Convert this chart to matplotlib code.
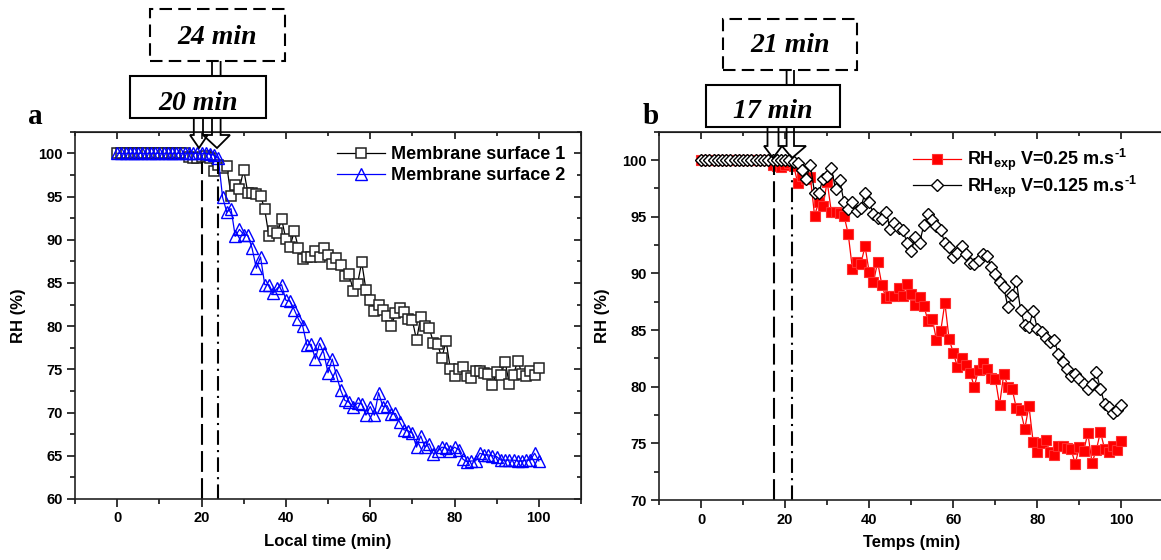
import matplotlib
matplotlib.use("Agg")
import matplotlib.pyplot as plt
from matplotlib.ticker import MultipleLocator
from matplotlib.patches import Rectangle, Polygon

plt.rcParams['font.family'] = ['Liberation Sans', 'DejaVu Sans']
plt.rcParams['font.weight'] = 'bold'
plt.rcParams['mathtext.fontset'] = 'custom'
plt.rcParams['mathtext.rm'] = 'Liberation Sans:bold'
plt.rcParams['mathtext.bf'] = 'Liberation Sans:bold'

W, H = 1161, 560

# ---- data ----
time_min = list(range(0, 101))

surface1 = [100.0] * 17 + [
    99.6, 99.5, 99.4, 99.6, 99.7, 99.5, 98.0, 98.6, 98.3, 98.5,   # 17-26
    95.1, 96.3, 95.9, 98.1, 95.4, 95.4, 95.3, 95.1, 93.5, 90.4,   # 27-36
    91.0, 90.8, 92.4, 90.1, 89.2, 91.0, 89.0, 87.8, 88.0, 88.0,   # 37-46
    88.7, 88.0, 89.1, 88.2, 87.2, 87.9, 87.1, 85.8, 86.0, 84.1,   # 47-56
    84.9, 87.4, 84.2, 83.0, 81.7, 82.5, 81.9, 81.2, 80.0, 81.5,   # 57-66
    82.1, 81.6, 80.8, 80.7, 78.4, 81.1, 80.0, 79.8, 78.1, 77.9,   # 67-76
    76.3, 78.3, 75.1, 74.2, 75.0, 75.3, 74.2, 74.0, 74.8, 74.8,   # 77-86
    74.6, 74.5, 73.2, 74.7, 74.3, 75.9, 73.3, 74.4, 76.0, 74.5,   # 87-96
    74.2, 74.8, 74.4, 75.2]                                       # 97-100

surface2 = [100.0] * 22 + [
    99.9, 99.8, 99.4, 94.9, 93.2, 93.6, 90.4, 91.2,               # 22-29
    90.6, 90.5, 89.0, 86.7, 88.0, 84.8, 84.8, 83.8, 84.4, 84.8,   # 30-39
    83.0, 82.9, 81.9, 80.8, 80.0, 77.8, 77.9, 76.2, 78.0, 76.9,   # 40-49
    74.6, 76.2, 74.3, 72.6, 71.4, 71.2, 70.6, 71.1, 71.0, 69.7,   # 50-59
    70.7, 69.7, 72.3, 70.7, 70.8, 69.8, 69.9, 68.9, 68.0, 67.9,   # 60-69
    67.6, 66.0, 67.3, 66.0, 66.4, 65.2, 65.5, 66.0, 65.9, 65.5,   # 70-79
    66.0, 65.7, 64.6, 64.3, 64.4, 64.4, 65.3, 65.1, 65.1, 65.0,   # 80-89
    64.9, 64.5, 64.5, 64.5, 64.5, 64.4, 64.4, 64.5, 64.5, 65.3,   # 90-99
    64.4]

rh_v025 = list(surface1)

rh_v0125 = [100.0] * 22 + [
    99.8, 99.7, 99.1, 98.3, 99.6, 97.1, 97.1, 98.3,               # 22-29
    98.6, 99.3, 97.4, 98.2, 96.3, 95.7, 96.3, 95.5, 95.8, 97.1,   # 30-39
    96.3, 95.2, 94.9, 94.8, 95.4, 93.9, 94.4, 94.0, 93.8, 92.7,   # 40-49
    92.0, 93.2, 92.7, 94.3, 95.2, 94.7, 94.2, 93.8, 92.7, 92.3,   # 50-59
    91.4, 91.8, 92.4, 91.7, 90.9, 90.8, 91.2, 91.7, 91.5, 90.6,   # 60-69
    89.9, 89.2, 88.8, 87.0, 88.1, 89.3, 86.8, 85.4, 85.3, 86.7,   # 70-79
    85.1, 84.8, 84.3, 83.9, 84.1, 82.9, 82.2, 81.6, 80.9, 81.1,   # 80-89
    80.7, 80.2, 79.8, 80.2, 81.3, 79.8, 78.5, 78.2, 77.7, 77.9,   # 90-99
    78.4]

onset_a = [20, 24]
onset_b = [17.4, 21.7]
labels_a = ['20 min', '24 min']
labels_b = ['17 min', '21 min']


def fx(px):
    return px / W


def fy(py):
    return 1 - py / H


fig = plt.figure(figsize=(W / 100, H / 100), dpi=100)
ax1 = fig.add_axes([fx(75), fy(499), fx(581) - fx(75), fy(131.7) - fy(499)])
ax2 = fig.add_axes([fx(659), fy(500), fx(1163.5) - fx(659), fy(131.7) - fy(500)])


def style_axes(ax, ymin, xlabel, right_ticks=True):
    ax.set_xlim(-10, 110)
    ax.set_ylim(ymin, 102.5)
    ax.xaxis.set_major_locator(MultipleLocator(20))
    ax.xaxis.set_minor_locator(MultipleLocator(10))
    ax.yaxis.set_major_locator(MultipleLocator(5))
    ax.yaxis.set_minor_locator(MultipleLocator(2.5))
    ax.tick_params(which='major', direction='out', length=6, width=1.1, labelsize=10.5, pad=3)
    ax.tick_params(which='minor', direction='out', length=3.5, width=1.1)
    for s in ax.spines.values():
        s.set_linewidth(1.2)
        s.set_color('#222222')
    ax.set_xlabel(xlabel, fontsize=12, fontweight='bold', labelpad=6)
    ax.set_ylabel('RH (%)', fontsize=12, fontweight='bold', labelpad=9)
    top = ax.secondary_xaxis('top')
    top.xaxis.set_major_locator(MultipleLocator(20))
    top.xaxis.set_minor_locator(MultipleLocator(10))
    top.tick_params(which='major', direction='in', length=5, width=1.1, labeltop=False)
    top.tick_params(which='minor', direction='in', length=3, width=1.1)
    if right_ticks:
        right = ax.secondary_yaxis('right')
        right.yaxis.set_major_locator(MultipleLocator(5))
        right.yaxis.set_minor_locator(MultipleLocator(2.5))
        right.tick_params(which='major', direction='in', length=5, width=1.1, labelright=False)
        right.tick_params(which='minor', direction='in', length=3, width=1.1)


# ---- panel a ----
ax1.plot(time_min, surface1, color='black', lw=0.9, marker='s', ms=6.5,
         mfc='white', mec='#222222', mew=1.1, label='Membrane surface 1')
ax1.plot(time_min, surface2, color='#0000ff', lw=0.9, marker='^', ms=8,
         mfc='none', mec='#0000ff', mew=1.0, label='Membrane surface 2')
ax1.vlines(onset_a[0], 60, 99.0, color='black', lw=1.5, linestyles=[(0, (10, 3))])
ax1.vlines(onset_a[1], 60, 99.0, color='black', lw=1.5, linestyles=[(0, (7, 2.5, 1, 2.5))])
style_axes(ax1, 60, 'Local time (min)')
ax1.legend(loc='upper left', bbox_to_anchor=(fx(337), fy(146)), bbox_transform=fig.transFigure,
           frameon=False, fontsize=13, handlelength=2.65, handletextpad=0.35,
           borderpad=0, borderaxespad=0, labelspacing=0.22)

# ---- panel b ----
ax2.plot(time_min, rh_v025, color='#ff0000', lw=0.9, marker='s', ms=6.5,
         mfc='#ff0000', mec='#ff3030', mew=0.8,
         label=r'RH$_{\mathrm{exp}}$ V=0.25 m.s$^{\text{-1}}$')
ax2.plot(time_min, rh_v0125, color='black', lw=0.9, marker='D', ms=6.3,
         mfc='white', mec='black', mew=1.0,
         label=r'RH$_{\mathrm{exp}}$ V=0.125 m.s$^{\text{-1}}$')
ax2.vlines(onset_b[0], 70, 99.5, color='black', lw=1.5, linestyles=[(0, (10, 3))])
ax2.vlines(onset_b[1], 70, 99.5, color='black', lw=1.5, linestyles=[(0, (7, 2.5, 1, 2.5))])
style_axes(ax2, 70, 'Temps (min)', right_ticks=False)
ax2.legend(loc='upper left', bbox_to_anchor=(fx(913), fy(147)), bbox_transform=fig.transFigure,
           frameon=False, fontsize=13, handlelength=2.65, handletextpad=0.35,
           borderpad=0, borderaxespad=0, labelspacing=0.0)

# ---- callout boxes and hollow arrows ----
def hollow_arrow(xl, xr, ytop, yhead, wl, wr, tipx, tipy):
    pts = [(xl, ytop), (xl, yhead), (wl, yhead), (tipx, tipy), (wr, yhead), (xr, yhead), (xr, ytop)]
    fig.add_artist(Polygon([(fx(a), fy(b)) for a, b in pts], closed=False, fill=False,
                           ec='black', lw=1.3, transform=fig.transFigure, zorder=5))


def callout(x0, y0, x1, y1, text, dashed, ty):
    r = Rectangle((fx(x0), fy(y1)), fx(x1) - fx(x0), fy(y0) - fy(y1), transform=fig.transFigure,
                  fc='white', ec='black', lw=1.5, ls=(0, (6, 3)) if dashed else '-', zorder=6)
    fig.add_artist(r)
    fig.text(fx((x0 + x1) / 2), fy(ty), text, ha='center', va='center', fontsize=20,
             family='Liberation Serif', style='italic', weight='bold', zorder=7)


# panel a
hollow_arrow(212, 220.6, 61, 135, 203, 230, 217, 148)
hollow_arrow(193.8, 203, 118, 135, 190, 207.7, 199, 148)
callout(150, 9, 285, 61, labels_a[1], True, 37)
callout(130, 76, 266, 118, labels_a[0], False, 103)
# panel b
hollow_arrow(786.6, 794, 70, 146, 782, 806, 792, 158)
hollow_arrow(767.5, 778.5, 127, 146, 764, 782, 773, 158)
callout(723, 19, 857, 70, labels_b[1], True, 45)
callout(706, 85, 840, 127, labels_b[0], False, 111)

fig.text(fx(35), fy(116), 'a', fontsize=21, family='Liberation Serif', weight='bold',
         ha='center', va='center')
fig.text(fx(651), fy(116), 'b', fontsize=21, family='Liberation Serif', weight='bold',
         ha='center', va='center')

fig.savefig('out.png', dpi=100)
